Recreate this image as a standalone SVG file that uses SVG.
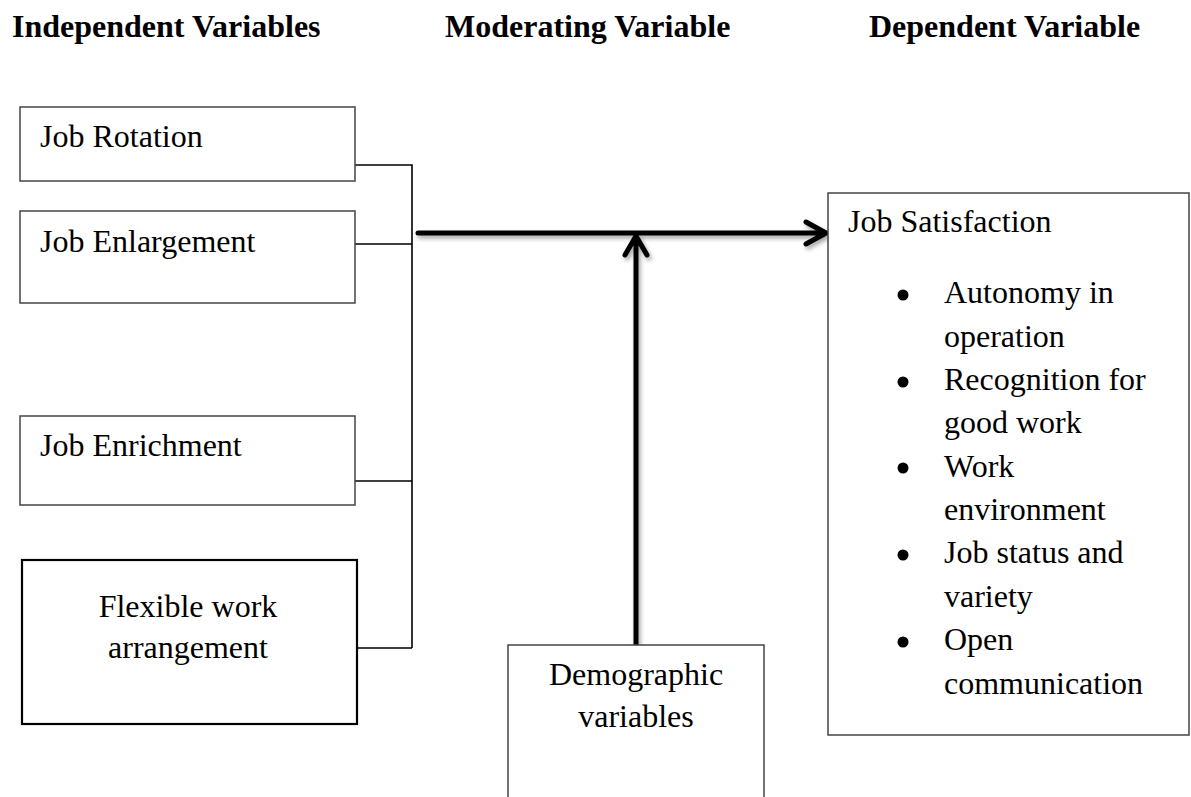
<svg xmlns="http://www.w3.org/2000/svg" width="1191" height="797" viewBox="0 0 1191 797">
  <style>
    .hdr { font-family: "Liberation Serif", "Times New Roman", serif; font-size: 32px; font-weight: bold; fill: #000; }
    .lbl { font-family: "Liberation Serif", "Times New Roman", serif; font-size: 32px; fill: #000; }
    .mid { text-anchor: middle; }
    .box { fill: #fff; stroke: #444; stroke-width: 1.5; }
    .boxk { fill: #fff; stroke: #000; stroke-width: 2.2; }
    .thin { fill: none; stroke: #000; stroke-width: 1.6; }
    .thick { fill: none; stroke: #000; stroke-width: 5; stroke-linecap: round; stroke-linejoin: round; }
  </style>
  <defs>
    <filter id="shadow" x="-20%" y="-20%" width="140%" height="140%">
      <feDropShadow dx="2" dy="3" stdDeviation="2" flood-color="#000" flood-opacity="0.35"/>
    </filter>
  </defs>
  <rect width="1191" height="797" fill="#fff"/>

  <g id="headers">
    <text class="hdr" x="12" y="37">Independent Variables</text>
    <text class="hdr" x="445" y="37">Moderating Variable</text>
    <text class="hdr" x="869" y="37">Dependent Variable</text>
  </g>

  <g id="connectors">
    <path class="thin" d="M355 165 H412 V648 M355 244 H412 M355 481 H412 M357 648 H412"/>
    <g filter="url(#shadow)">
      <path class="thick" d="M418 233 H825 M806 222 L826 233 L806 244"/>
      <path class="thick" d="M636 645 V238 M625 255 L636 236 L647 255"/>
    </g>
  </g>

  <g id="node-job-rotation">
    <rect class="box" x="20" y="107" width="335" height="74"/>
    <text class="lbl" x="40" y="147">Job Rotation</text>
  </g>

  <g id="node-job-enlargement">
    <rect class="box" x="20" y="211" width="335" height="92"/>
    <text class="lbl" x="40" y="252">Job Enlargement</text>
  </g>

  <g id="node-job-enrichment">
    <rect class="box" x="20" y="416" width="335" height="89"/>
    <text class="lbl" x="40" y="456">Job Enrichment</text>
  </g>

  <g id="node-flexible">
    <rect class="boxk" x="22" y="560" width="335" height="164"/>
    <text class="lbl mid" x="188" y="617">Flexible work</text>
    <text class="lbl mid" x="188" y="658">arrangement</text>
  </g>

  <g id="node-demographic">
    <rect class="box" x="508" y="645" width="256" height="170"/>
    <text class="lbl mid" x="636" y="685">Demographic</text>
    <text class="lbl mid" x="636" y="727">variables</text>
  </g>

  <g id="node-job-satisfaction">
    <rect class="box" x="828" y="193" width="361" height="542"/>
    <text class="lbl" x="848" y="232">Job Satisfaction</text>
    <g fill="#000">
      <circle cx="903" cy="295" r="5.5"/>
      <circle cx="903" cy="382" r="5.5"/>
      <circle cx="903" cy="468" r="5.5"/>
      <circle cx="903" cy="555" r="5.5"/>
      <circle cx="903" cy="642" r="5.5"/>
    </g>
    <text class="lbl" x="944" y="303">Autonomy in</text>
    <text class="lbl" x="944" y="347">operation</text>
    <text class="lbl" x="944" y="390">Recognition for</text>
    <text class="lbl" x="944" y="433">good work</text>
    <text class="lbl" x="944" y="477">Work</text>
    <text class="lbl" x="944" y="520">environment</text>
    <text class="lbl" x="944" y="563">Job status and</text>
    <text class="lbl" x="944" y="607">variety</text>
    <text class="lbl" x="944" y="650">Open</text>
    <text class="lbl" x="944" y="694">communication</text>
  </g>
</svg>
